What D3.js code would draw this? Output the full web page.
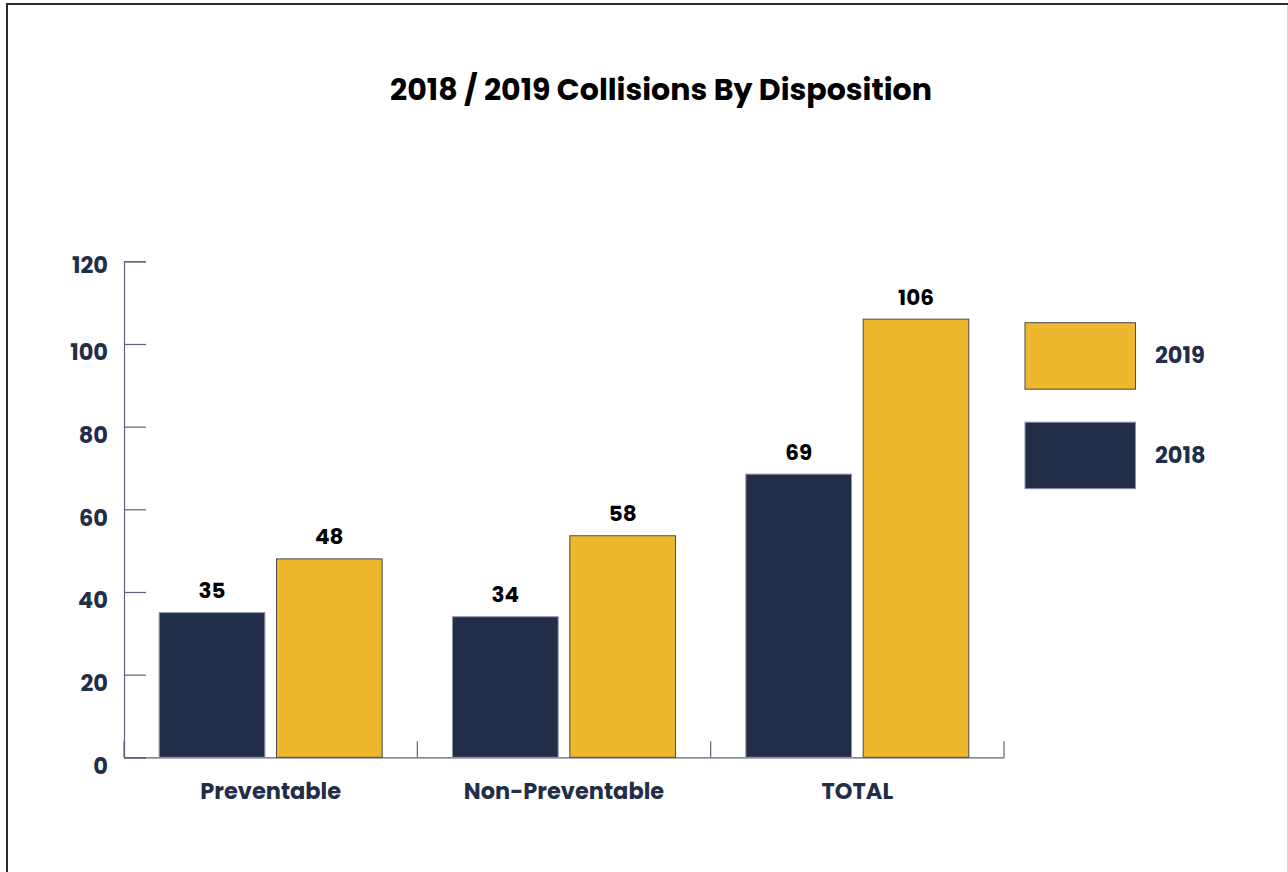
<!DOCTYPE html>
<html>
<head>
<meta charset="utf-8">
<script src="https://cdn.jsdelivr.net/npm/d3@7"></script>
<style>
  html, body { margin: 0; padding: 0; background: #ffffff; }
  svg { display: block; }
  text { font-family: "Poppins", "Inter", "Noto Sans", sans-serif; font-weight: 700; }
</style>
</head>
<body>
<svg id="chart" width="1288" height="872"></svg>
<script>
// ---- data ----
const title = "2018 / 2019 Collisions By Disposition";
const categories = ["Preventable", "Non-Preventable", "TOTAL"];
const seriesNames = ["2018", "2019"];
const values2018 = [35, 34, 68.5];
const values2019 = [48, 53.6, 106];
const labels2018 = ["35", "34", "69"];
const labels2019 = ["48", "58", "106"];
const yTicks = [0, 20, 40, 60, 80, 100, 120];
const legendOrder = ["2019", "2018"];

// ---- styles ----
const colors = { "2018": "#222d47", "2019": "#efb72e" };
const strokes = { "2018": "#8c93a6", "2019": "#4a4a4a" };
const navy = "#222d47";
const axisColor = "#5a6378";

const svg = d3.select("#chart");

// frame
svg.append("line").attr("x1", 7).attr("x2", 7).attr("y1", 3).attr("y2", 872)
  .attr("stroke", "#2b2b2b").attr("stroke-width", 2);
svg.append("line").attr("x1", 6).attr("x2", 1288).attr("y1", 4).attr("y2", 4)
  .attr("stroke", "#2b2b2b").attr("stroke-width", 2);
svg.append("line").attr("x1", 1287.5).attr("x2", 1287.5).attr("y1", 5).attr("y2", 872)
  .attr("stroke", "#d8d8d8").attr("stroke-width", 1);

// scales
const y = d3.scaleLinear().domain([0, 120]).range([757.3, 261.3]);
const x = d3.scaleBand().domain(categories).range([124, 1004]).paddingInner(0).paddingOuter(0);
const xi = d3.scaleBand().domain(seriesNames).range([0, x.bandwidth()])
  .paddingInner(0.0994).paddingOuter(0.3);

// title
const t = svg.append("text").attr("x", 661).attr("y", 100).attr("text-anchor", "middle")
  .attr("fill", "#000").style("font-size", "24px").text(title);
const tw = t.node().getComputedTextLength();
t.style("font-size", (24 * 542 / tw).toFixed(2) + "px");

// y axis
const yAxis = d3.axisLeft(y).tickValues(yTicks).tickSize(-22).tickPadding(16).tickFormat(d3.format("d"));
const gy = svg.append("g").attr("transform", "translate(124,0)").call(yAxis);
gy.select(".domain").attr("stroke", axisColor).attr("stroke-width", 1.2);
gy.selectAll(".tick line").attr("stroke", axisColor).attr("stroke-width", 1.2);
gy.selectAll(".tick text").attr("fill", navy).attr("dy", null)
  .attr("y", d => d === 120 ? 11 : 15.8)
  .style("font-size", "22.5px").style("font-family", "\"Poppins\", \"Inter\", sans-serif").style("font-weight", 700);

// x axis
const xAxis = d3.axisBottom(x).tickSize(0).tickSizeOuter(0);
const gx = svg.append("g").attr("transform", "translate(0,757.3)").call(xAxis);
gx.select(".domain").attr("stroke", axisColor).attr("stroke-width", 1.2);
gx.selectAll(".tick text").attr("fill", navy).attr("dy", null).attr("y", 42)
  .style("font-size", "22.5px").style("font-family", "\"Poppins\", \"Inter\", sans-serif").style("font-weight", 700);

// category boundary ticks
const bounds = categories.map(c => x(c)).concat([x(categories[categories.length - 1]) + x.bandwidth()]);
svg.append("g").selectAll("line").data(bounds).join("line")
  .attr("x1", d => d).attr("x2", d => d)
  .attr("y1", y(0) - 16).attr("y2", y(0))
  .attr("stroke", axisColor).attr("stroke-width", 1.2);

// bars
const rows = categories.map((c, i) => ({
  cat: c,
  items: [
    { s: "2018", v: values2018[i], label: labels2018[i] },
    { s: "2019", v: values2019[i], label: labels2019[i] }
  ]
}));

const groups = svg.append("g").selectAll("g").data(rows).join("g")
  .attr("transform", d => `translate(${x(d.cat)},0)`);

groups.selectAll("rect").data(d => d.items).join("rect")
  .attr("x", d => xi(d.s))
  .attr("y", d => y(d.v))
  .attr("width", xi.bandwidth())
  .attr("height", d => y(0) - y(d.v))
  .attr("fill", d => colors[d.s])
  .attr("stroke", d => strokes[d.s])
  .attr("stroke-width", 1);

groups.selectAll("text.val").data(d => d.items).join("text")
  .attr("class", "val")
  .attr("x", d => xi(d.s) + xi.bandwidth() / 2)
  .attr("y", d => y(d.v) - 14.5)
  .attr("text-anchor", "middle")
  .attr("fill", "#000")
  .style("font-size", "21.5px")
  .text(d => d.label);

// legend
const ly = d3.scaleBand().domain(legendOrder).range([322.7, 488.7]).paddingInner(0.3317).paddingOuter(0);
const lg = svg.append("g").selectAll("g").data(legendOrder).join("g")
  .attr("transform", d => `translate(1025,${ly(d)})`);
lg.append("rect").attr("x", 0).attr("y", 0).attr("width", 110.5).attr("height", ly.bandwidth())
  .attr("fill", d => colors[d]).attr("stroke", d => strokes[d]).attr("stroke-width", 1);
lg.append("text").attr("x", 130).attr("y", ly.bandwidth() / 2 + 7.5)
  .attr("fill", navy).style("font-size", "22.5px").text(d => d);
</script>
</body>
</html>
